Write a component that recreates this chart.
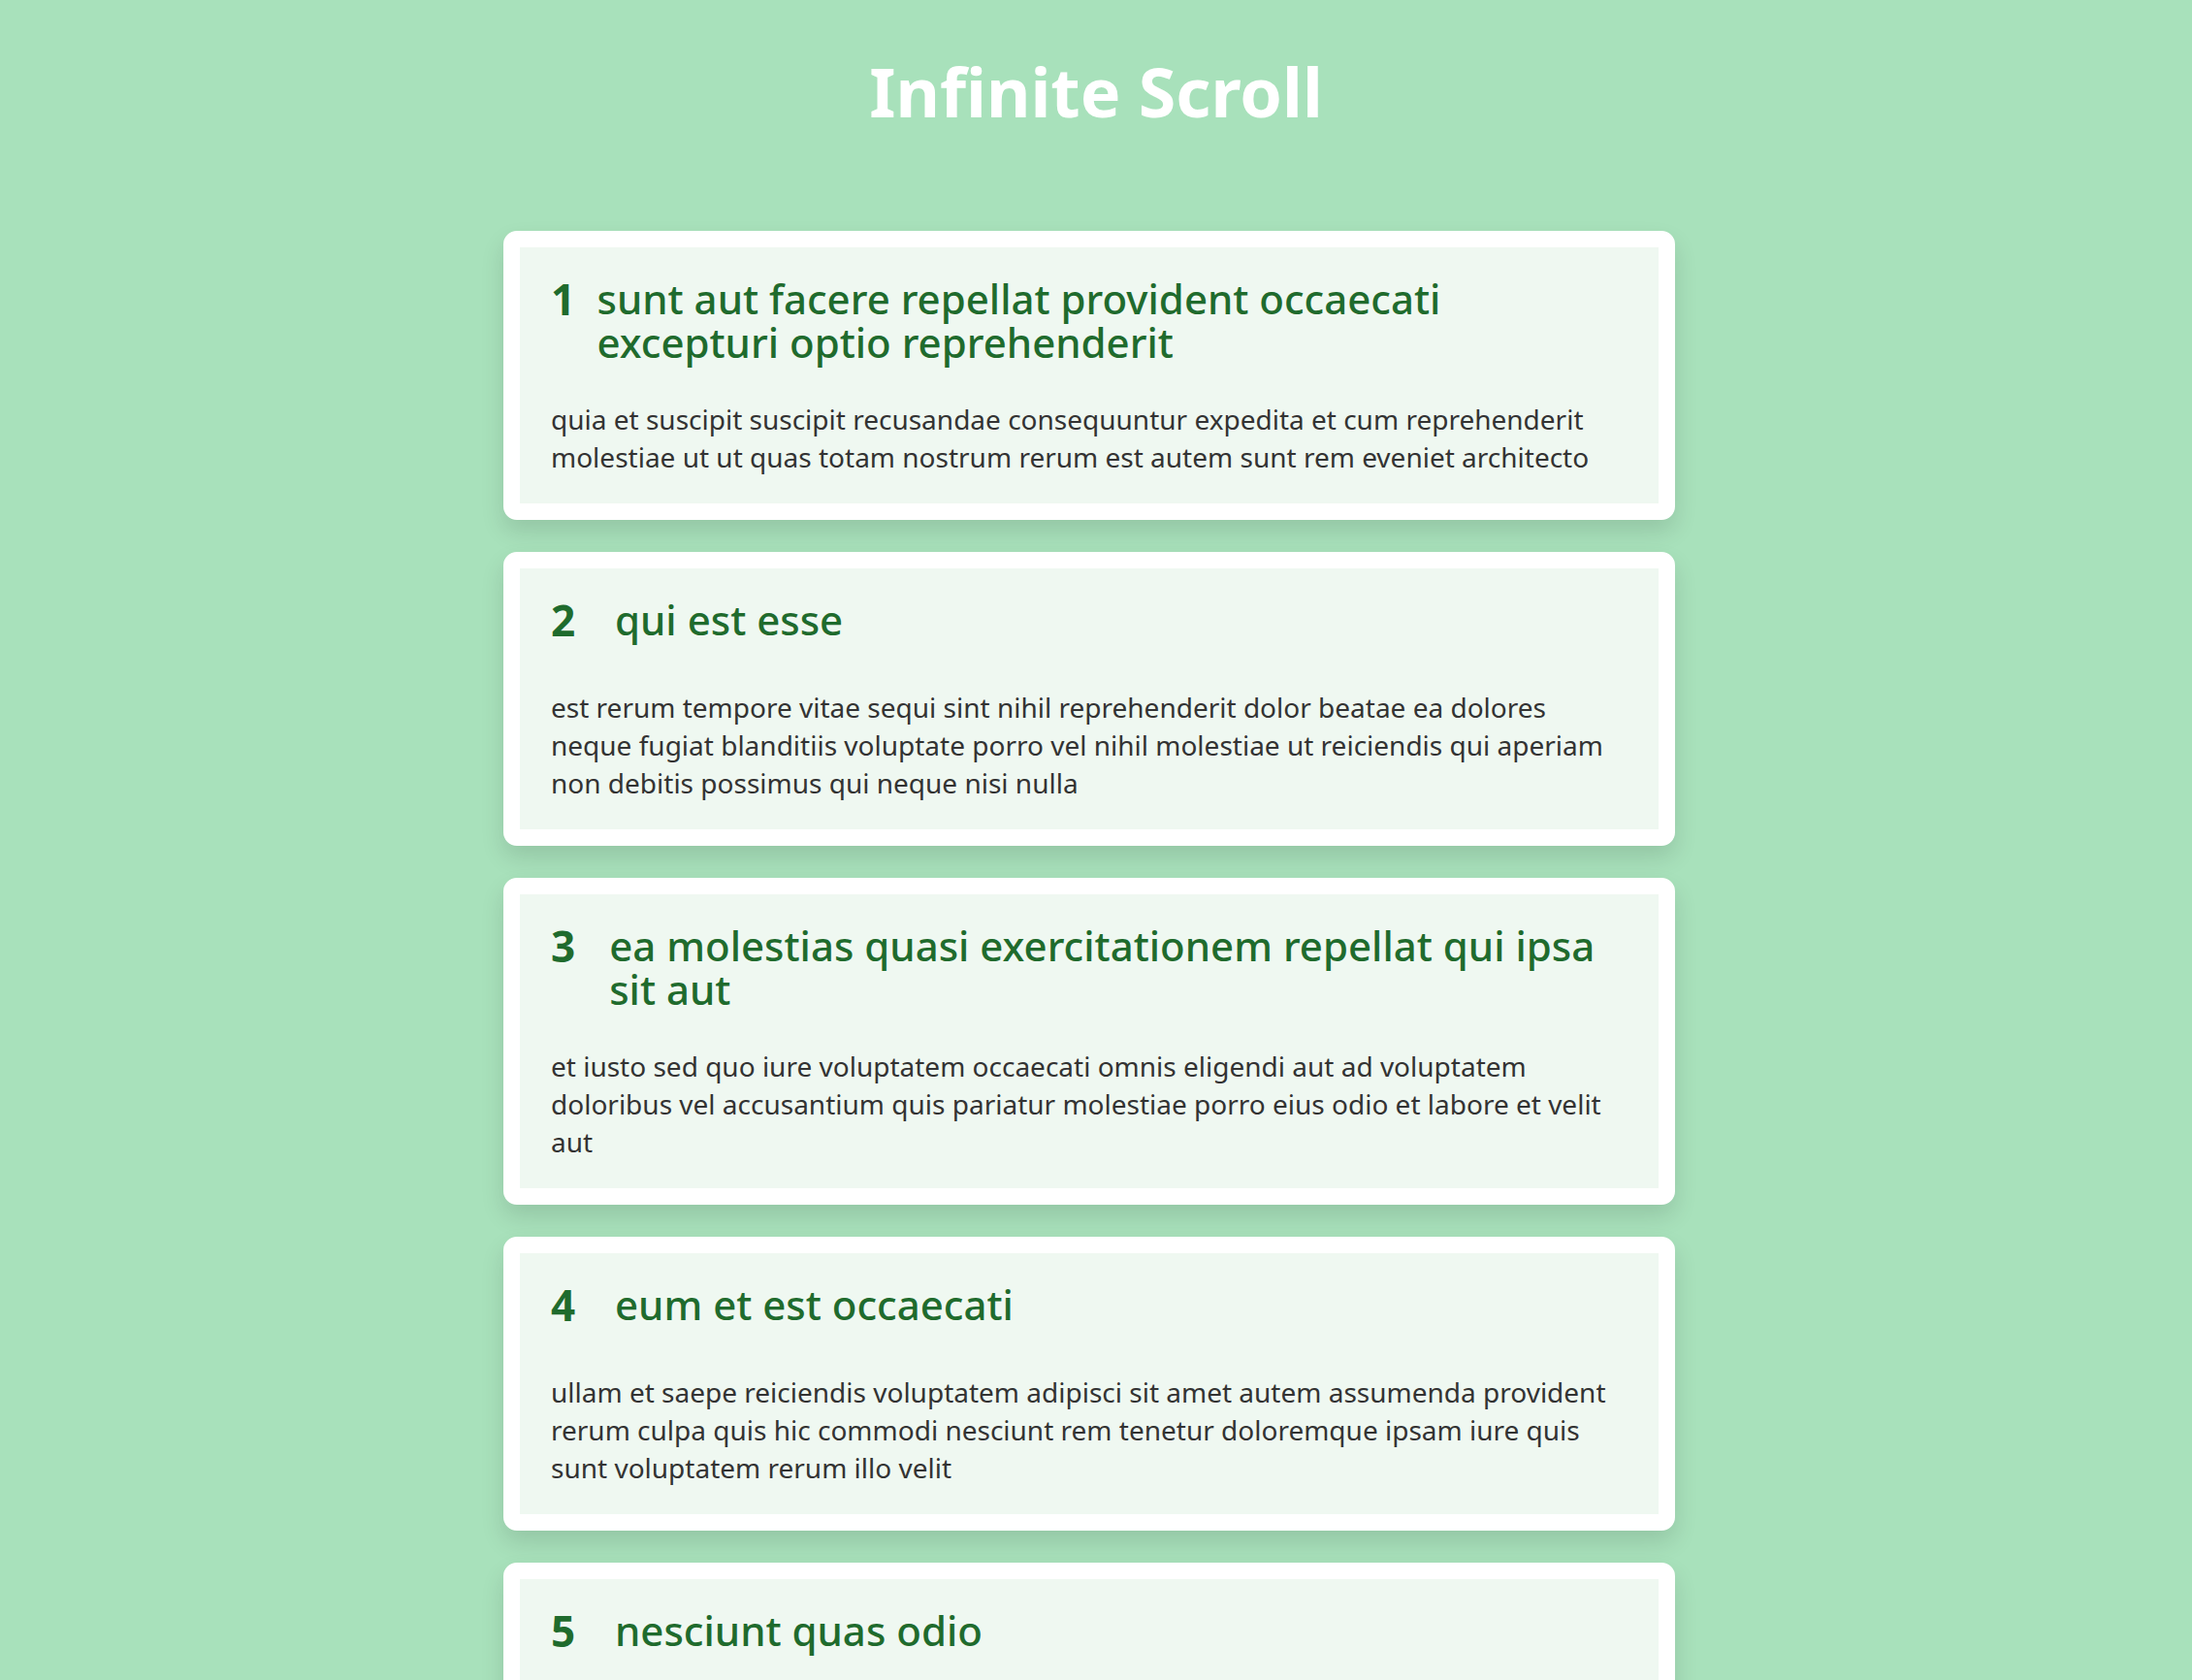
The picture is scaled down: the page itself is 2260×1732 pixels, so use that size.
import React from "react"

const ids = [1, 2, 3, 4, 5]
const titles = [
  "sunt aut facere repellat provident occaecati excepturi optio reprehenderit",
  "qui est esse",
  "ea molestias quasi exercitationem repellat qui ipsa sit aut",
  "eum et est occaecati",
  "nesciunt quas odio",
]
const bodies = [
  "quia et suscipit suscipit recusandae consequuntur expedita et cum reprehenderit molestiae ut ut quas totam nostrum rerum est autem sunt rem eveniet architecto",
  "est rerum tempore vitae sequi sint nihil reprehenderit dolor beatae ea dolores neque fugiat blanditiis voluptate porro vel nihil molestiae ut reiciendis qui aperiam non debitis possimus qui neque nisi nulla",
  "et iusto sed quo iure voluptatem occaecati omnis eligendi aut ad voluptatem doloribus vel accusantium quis pariatur molestiae porro eius odio et labore et velit aut",
  "ullam et saepe reiciendis voluptatem adipisci sit amet autem assumenda provident rerum culpa quis hic commodi nesciunt rem tenetur doloremque ipsam iure quis sunt voluptatem rerum illo velit",
  "repudiandae veniam quaerat sunt sed alias aut fugiat sit autem sed est voluptatem omnis possimus esse voluptatibus quis est aut tenetur dolor neque",
]

const font = "'Noto Sans', sans-serif"

export default function App() {
  return (
    <div
      style={{
        position: "fixed",
        inset: 0,
        width: 2260,
        height: 1732,
        overflow: "hidden",
        background: "#a8e1bb",
        fontFamily: font,
      }}
    >
      <h1
        style={{
          margin: 0,
          paddingTop: 44,
          textAlign: "center",
          color: "#fff",
          fontSize: 70,
          fontWeight: 700,
          lineHeight: "100px",
        }}
      >
        Infinite Scroll
      </h1>
      <div style={{ width: 1208, margin: "94px 0 0 519px" }}>
        {ids.map((id, i) => (
          <div
            key={id}
            style={{
              background: "#eff8f1",
              border: "17px solid #fff",
              borderRadius: 14,
              boxShadow: "0 12px 24px rgba(0,0,0,0.12)",
              padding: "20px 32px 28px",
              marginBottom: 33,
            }}
          >
            <div style={{ display: "flex", alignItems: "flex-start", color: "#1f6b2d" }}>
              <div style={{ fontSize: 44, fontWeight: 700, width: 66, lineHeight: "66px" }}>{id}</div>
              <div style={{ fontSize: 42, fontWeight: 500, lineHeight: "45px", paddingTop: 10 }}>{titles[i]}</div>
            </div>
            <p style={{ margin: "38px 0 0", fontSize: 28, lineHeight: "39px", color: "#333" }}>{bodies[i]}</p>
          </div>
        ))}
      </div>
    </div>
  )
}
